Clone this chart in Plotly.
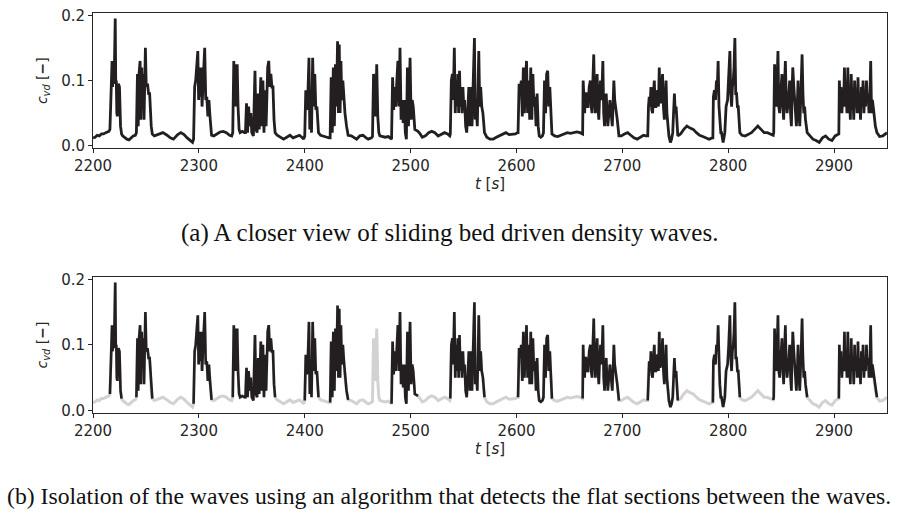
import plotly.graph_objects as go

# ---------------- data (time t [s], volumetric concentration c_vd [-]) ----------------
flat0 = [(2200, .012), (2202, .013), (2204, .016), (2206, .015), (2208, .018), (2210, .018),
         (2212, .02), (2214, .022), (2215, .022)]
wave1 = [(2216, .025), (2217, .1), (2218, .13), (2218.5, .09), (2219, .125), (2219.5, .095),
         (2220, .1), (2221, .195), (2221.5, .095), (2222, .1), (2222.5, .05), (2223, .045),
         (2224, .095), (2225, .09), (2226, .03), (2227, .018)]
flat1 = [(2228, .015), (2230, .012), (2232, .01), (2234, .009), (2236, .012), (2238, .015), (2240, .016)]
wave2 = [(2241, .02), (2242, .11), (2242.7, .03), (2243.5, .11), (2244.5, .13), (2245.2, .04),
         (2246, .12), (2246.7, .075), (2247.5, .11), (2248.2, .04), (2249.5, .15), (2250.3, .09),
         (2251.5, .095), (2252.5, .08), (2253.5, .08), (2255, .03), (2256, .018)]
flat2 = [(2258, .015), (2262, .017), (2266, .02), (2270, .016), (2273, .012), (2276, .01),
         (2280, .017), (2283, .02), (2286, .017), (2289, .012), (2292, .008), (2294, .005)]
wave3 = [(2295, .01), (2296, .09), (2297, .1), (2298, .12), (2299, .145), (2299.8, .07),
         (2300.6, .12), (2301.4, .075), (2302.2, .12), (2303, .06), (2304, .1), (2305.5, .15),
         (2306.5, .07), (2307.5, .075), (2308.5, .045), (2309.5, .07), (2310.5, .045), (2312, .016)]
flat3 = [(2314, .015), (2317, .018), (2320, .021), (2323, .022), (2326, .02), (2329, .016), (2331, .015)]
wave4 = [(2332, .02), (2333, .13), (2333.7, .06), (2334.5, .125), (2335.3, .06), (2336.2, .125),
         (2337, .06), (2338, .025), (2339, .02), (2341, .022), (2343, .02), (2344, .02),
         (2345, .065), (2346, .02), (2347, .06), (2348, .03), (2349, .05), (2350, .02),
         (2351.5, .015), (2353, .115), (2354, .025), (2355, .02), (2356, .08), (2357, .025),
         (2358.5, .105), (2359.5, .03), (2360.5, .1), (2361.5, .02), (2362.5, .085), (2363.5, .03),
         (2365, .12), (2366, .13), (2367, .09), (2368, .11), (2369, .09), (2370, .09),
         (2371, .04), (2372, .02)]
flat4 = [(2374, .016), (2377, .013), (2380, .01), (2383, .013), (2386, .016), (2389, .012),
         (2392, .014), (2395, .016), (2398, .012), (2399, .01)]
wave5 = [(2400, .015), (2401, .085), (2402, .055), (2403, .08), (2404, .135), (2404.8, .025),
         (2405.6, .07), (2406.4, .02), (2407.5, .135), (2408.5, .06), (2409.5, .11), (2410.5, .055),
         (2411.5, .06), (2413, .02)]
flat5 = [(2415, .016), (2418, .015), (2421, .013), (2423, .012)]
wave6 = [(2424, .012), (2425, .105), (2426, .02), (2427, .12), (2428, .03), (2429, .125),
         (2430, .06), (2431, .16), (2431.8, .05), (2432.6, .155), (2433.4, .05), (2434.2, .13),
         (2435, .07), (2436, .1), (2437, .075), (2438, .05), (2439.5, .03), (2441, .016)]
flat6 = [(2444, .015), (2447, .012), (2449, .01), (2452, .015), (2455, .016), (2458, .012),
         (2460, .01), (2463, .012)]
wave7 = [(2464, .014), (2465, .11), (2466, .1), (2467, .045), (2468, .125), (2469, .045),
         (2470, .02), (2471, .015)]
flat7 = [(2473, .014), (2476, .013), (2479, .014), (2481, .012)]
wave8 = [(2482, .01), (2483, .105), (2484, .055), (2485, .09), (2486, .06), (2487, .1),
         (2488, .13), (2489, .06), (2490, .15), (2491, .04), (2492, .07), (2493, .035),
         (2494, .07), (2495, .02), (2496, .01), (2497, .12), (2498, .03), (2499.5, .135),
         (2500.5, .04), (2501.5, .07), (2502.5, .06), (2504, .025), (2507, .022)]
flat8 = [(2509, .018), (2511, .013), (2514, .015), (2517, .02), (2520, .022), (2523, .02),
         (2526, .015), (2529, .017), (2532, .02), (2535, .018), (2537, .015)]
wave9 = [(2537.5, .018), (2538.5, .1), (2539.5, .11), (2540.3, .07), (2541.3, .15), (2542.2, .05),
         (2543, .1), (2543.8, .06), (2544.6, .11), (2545.4, .05), (2546.2, .115), (2547, .06),
         (2547.8, .09), (2548.6, .05), (2549.4, .09), (2550.2, .06), (2551, .07), (2552, .03),
         (2553, .02), (2554, .06), (2555, .09), (2556, .03), (2557, .09), (2558, .03),
         (2559.2, .1), (2560.3, .165), (2561, .04), (2562, .06), (2563, .03), (2564.4, .145),
         (2565.3, .06), (2566.2, .09), (2567.2, .06), (2568.3, .05), (2569.8, .02)]
flat9 = [(2572, .013), (2575, .01), (2578, .01), (2581, .013), (2584, .015), (2587, .018),
         (2590, .02), (2593, .017), (2596, .018), (2599, .018), (2601, .02)]
wave10 = [(2601.5, .02), (2602.5, .095), (2603.5, .08), (2604.5, .1), (2605.5, .045), (2606.5, .12),
          (2607.5, .05), (2608.5, .1), (2609.5, .13), (2610.5, .05), (2611.5, .1), (2612.5, .04),
          (2613.5, .12), (2614.5, .04), (2615.5, .11), (2616.5, .06), (2617.5, .075), (2618.5, .03),
          (2619.5, .08), (2620.5, .03), (2621.5, .015), (2623, .013), (2624.5, .015), (2625.5, .02),
          (2626.5, .1), (2627.5, .05), (2628.5, .11), (2629.5, .115), (2630.5, .06), (2631.5, .09),
          (2632.5, .04), (2633.5, .018)]
flat10 = [(2636, .015), (2639, .014), (2642, .016), (2645, .018), (2648, .02), (2651, .019),
          (2654, .02), (2657, .021), (2660, .02), (2662, .018)]
wave11 = [(2662.5, .018), (2663, .1), (2663.7, .06), (2664.4, .05), (2665, .08), (2665.7, .08),
          (2666.6, .06), (2667.6, .06), (2668.7, .09), (2669.8, .1), (2670.6, .06), (2671.4, .05),
          (2672.2, .1), (2673, .14), (2673.8, .07), (2674.6, .05), (2675.4, .09), (2676.2, .11),
          (2677, .06), (2677.8, .04), (2678.6, .08), (2679.4, .1), (2680.5, .07), (2681.6, .13),
          (2682.4, .05), (2683.2, .03), (2684, .06), (2684.8, .08), (2685.5, .05), (2686.3, .03),
          (2687.3, .05), (2688.3, .07), (2689.4, .05), (2690.5, .03), (2691.2, .06), (2692, .1),
          (2692.8, .07), (2693.7, .06), (2694.4, .05), (2695.2, .04), (2696.8, .015)]
flat11 = [(2699, .015), (2702, .018), (2705, .02), (2708, .016), (2711, .012), (2714, .01),
          (2717, .013), (2720, .016), (2722, .015)]
wave12 = [(2724, .015), (2724.7, .06), (2725.4, .075), (2726.2, .06), (2727, .09), (2727.8, .055),
          (2728.6, .05), (2729.4, .08), (2730.2, .1), (2731, .06), (2731.7, .06), (2732.5, .08),
          (2733.3, .085), (2734.1, .06), (2734.9, .12), (2735.7, .065), (2736.5, .07), (2737.3, .09),
          (2738, .11), (2738.8, .06), (2739.7, .04), (2740.5, .07), (2741.3, .1), (2742.1, .05),
          (2742.9, .03), (2744, .015), (2745.4, .005), (2746.5, .01), (2747.6, .02), (2748.4, .06),
          (2749.2, .08), (2750, .05), (2750.8, .06), (2752.4, .015)]
flat12 = [(2755, .018), (2758, .025), (2761, .03), (2764, .027), (2767, .025), (2770, .02),
          (2773, .016), (2776, .014), (2779, .012), (2782, .01), (2785, .012)]
wave13 = [(2785.5, .012), (2786, .075), (2787, .085), (2788, .07), (2788.9, .1), (2789.7, .09),
          (2790.5, .13), (2791.3, .06), (2792.1, .04), (2793, .02), (2793.7, .02), (2795.2, .005),
          (2796.8, .02), (2798, .06), (2799.4, .07), (2800.5, .1), (2801.6, .145), (2802.4, .08),
          (2803.2, .06), (2804, .09), (2804.8, .1), (2805.5, .12), (2806.3, .165), (2807.1, .08),
          (2807.9, .08), (2808.7, .06), (2809.5, .06), (2811, .02)]
flat13 = [(2813, .016), (2816, .015), (2819, .017), (2822, .02), (2825, .025), (2828, .03),
          (2831, .025), (2834, .02), (2837, .02), (2840, .018), (2842, .016)]
wave14 = [(2842.5, .016), (2843, .02), (2843.8, .125), (2844.6, .07), (2845.4, .06), (2846.2, .1),
          (2847, .145), (2847.8, .06), (2848.6, .05), (2849.6, .08), (2850.8, .11), (2851.6, .06),
          (2852.4, .04), (2853.2, .09), (2854, .13), (2854.8, .07), (2855.6, .05), (2856.8, .07),
          (2858.1, .1), (2858.9, .05), (2859.7, .03), (2860.3, .08), (2861, .12), (2862, .09),
          (2862.9, .07), (2863.6, .05), (2864.4, .03), (2865.2, .06), (2866, .1), (2866.8, .05),
          (2867.6, .03), (2868.7, .08), (2869.8, .14), (2870.6, .08), (2871.4, .05), (2872.2, .06),
          (2873, .04), (2874.6, .02)]
flat14 = [(2877, .015), (2880, .01), (2883, .008), (2886, .005), (2889, .012), (2892, .015),
          (2895, .01), (2898, .008), (2901, .015), (2904, .018)]
wave15 = [(2904.5, .018), (2905, .1), (2905.8, .06), (2906.6, .09), (2907.4, .05), (2908.2, .08),
          (2909, .06), (2909.8, .12), (2910.6, .06), (2911.4, .08), (2912.2, .05), (2913, .12),
          (2913.8, .05), (2914.6, .07), (2915.4, .04), (2916.2, .11), (2917, .06), (2917.8, .08),
          (2918.6, .04), (2919.4, .1), (2920.2, .06), (2921, .08), (2921.8, .05), (2922.6, .105),
          (2923.4, .05), (2924.2, .08), (2925, .04), (2925.8, .09), (2926.6, .06), (2927.4, .1),
          (2928.2, .05), (2929, .08), (2929.8, .06), (2930.6, .1), (2931.4, .07), (2932.2, .08),
          (2933, .05), (2933.8, .07), (2934.6, .13), (2935.4, .05), (2936.2, .07), (2937, .06),
          (2937.8, .045), (2939, .03), (2940.5, .02)]
flat15 = [(2943, .014), (2946, .015), (2948, .018), (2950, .02)]

segments = [flat0, wave1, flat1, wave2, flat2, wave3, flat3, wave4, flat4, wave5, flat5,
            wave6, flat6, wave7, flat7, wave8, flat8, wave9, flat9, wave10, flat10, wave11,
            flat11, wave12, flat12, wave13, flat13, wave14, flat14, wave15, flat15]

# waves detected by the flat-section algorithm (panel b, black)
detected_waves = [wave1, wave2, wave3, wave4, wave5, wave6, wave8, wave9, wave10,
                  wave11, wave12, wave13, wave14, wave15]

x_ticks = [2200, 2300, 2400, 2500, 2600, 2700, 2800, 2900]
y_ticks = [0.0, 0.1, 0.2]
caption_a = "(a) A closer view of sliding bed driven density waves."
caption_b = "(b) Isolation of the waves using an algorithm that detects the flat sections between the waves."

# ---------------- build ----------------
t_all = [p[0] for s in segments for p in s]
c_all = [p[1] for s in segments for p in s]

t_wav, c_wav = [], []
for w in detected_waves:
    t_wav += [p[0] for p in w] + [None]
    c_wav += [p[1] for p in w] + [None]

BLACK = "#231f20"
GREY = "#d2d2d2"
AX = "#262626"

fig = go.Figure()
fig.add_trace(go.Scatter(x=t_all, y=c_all, mode="lines", line=dict(color=BLACK, width=2.8),
                         xaxis="x", yaxis="y", showlegend=False))
fig.add_trace(go.Scatter(x=t_all, y=c_all, mode="lines", line=dict(color=GREY, width=3),
                         xaxis="x2", yaxis="y2", showlegend=False))
fig.add_trace(go.Scatter(x=t_wav, y=c_wav, mode="lines", line=dict(color=BLACK, width=2.6),
                         xaxis="x2", yaxis="y2", showlegend=False, connectgaps=False))

W, H = 899, 517
ML, MR, MT, MB = 93.3, 12.3, 12.7, 104.3
PH = H - MT - MB  # plot area height
PW = W - ML - MR
ydom_top = [(H - MB - 148) / PH, 1.0]
ydom_bot = [0.0, (H - MB - 276.7) / PH]

tickfont = dict(family="DejaVu Sans", size=15, color=AX)
xax = dict(range=[2200, 2950], tickvals=x_ticks, ticks="outside", ticklen=4, tickwidth=1,
           tickcolor=AX, showline=True, linecolor=AX, linewidth=1, mirror=True,
           showgrid=False, zeroline=False, tickfont=tickfont, domain=[0, 1], automargin=False,
           title=dict(text="<i>t</i> [<i>s</i>]", font=dict(family="DejaVu Sans", size=15, color=AX),
                      standoff=4))
yax = dict(range=[-0.004, 0.2035], tickvals=y_ticks, tickformat=".1f", ticks="outside",
           ticklen=4, tickwidth=1, tickcolor=AX, showline=True, linecolor=AX, linewidth=1,
           mirror=True, showgrid=False, zeroline=False, tickfont=tickfont, automargin=False,
           title=dict(text="<i>c</i><sub><i>vd</i></sub> [<b>\u2212</b>]",
                      font=dict(family="DejaVu Sans", size=14, color=AX), standoff=10))

# caption centres given in figure pixels -> paper coordinates of the plot area
cap_x = (W / 2 - ML) / PW
fig.update_layout(
    width=W, height=H, margin=dict(l=ML, r=MR, t=MT, b=MB, autoexpand=False),
    paper_bgcolor="white", plot_bgcolor="white",
    xaxis=dict(xax, anchor="y"),
    yaxis=dict(yax, domain=ydom_top, anchor="x"),
    xaxis2=dict(xax, anchor="y2"),
    yaxis2=dict(yax, domain=ydom_bot, anchor="x2"),
    annotations=[
        dict(text=caption_a, x=cap_x, xref="paper", y=(H - MB - 233) / PH, yref="paper",
             xanchor="center", yanchor="middle", showarrow=False,
             font=dict(family="Liberation Serif", size=25, color="#111111")),
        dict(text=caption_b, x=cap_x, xref="paper", y=(H - MB - 496) / PH, yref="paper",
             xanchor="center", yanchor="middle", showarrow=False,
             font=dict(family="Liberation Serif", size=23.7, color="#111111")),
    ],
)

fig.write_html("out.html", config={"displayModeBar": False},
               post_script="document.body.style.margin='0';document.body.style.overflow='hidden';")
